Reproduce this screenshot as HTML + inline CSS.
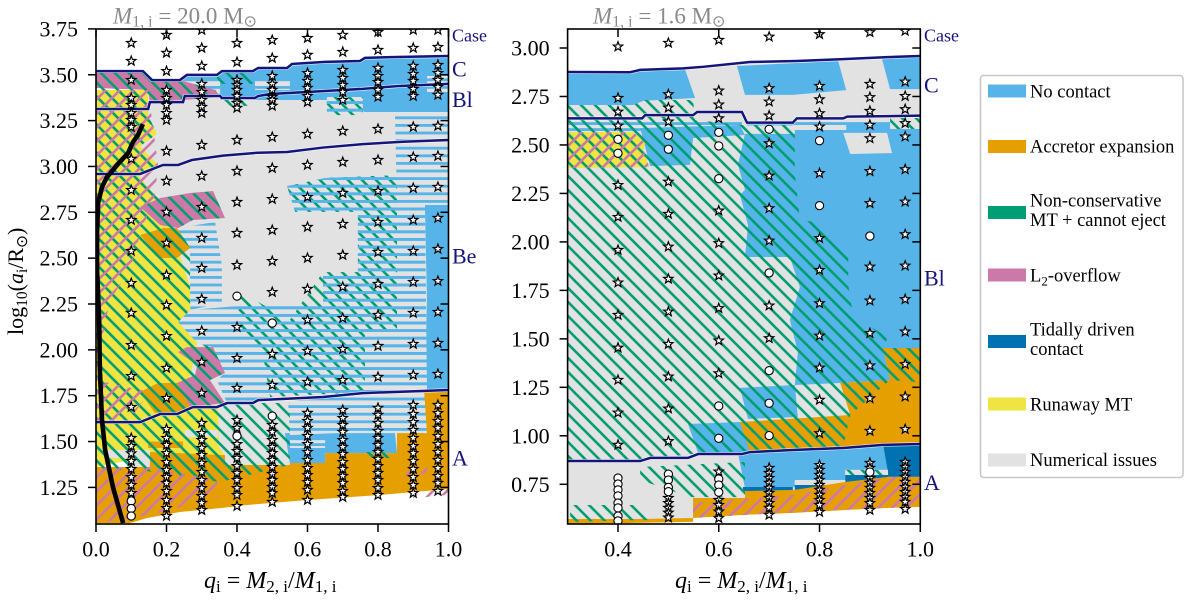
<!DOCTYPE html>
<html lang="en">
<head>
<meta charset="utf-8">
<title>Mass transfer outcome grids</title>
<style>
html,body{margin:0;padding:0;background:#fff;}
body{width:1200px;height:600px;overflow:hidden;}
svg{display:block;font-family:"Liberation Serif",serif;}
.tick-label{font-size:22px;fill:#000;}
.case-label{fill:#14147a;}
.legend-text{font-size:18.5px;fill:#000;}
</style>
</head>
<body>
<svg id="chart" width="1200" height="600" viewBox="0 0 1200 600">
  <defs>
    <pattern id="hatch-green" width="14" height="14" patternUnits="userSpaceOnUse">
      <path d="M-2,-2 L16,16 M-2,12 L2,16 M12,-2 L16,2" stroke="#009E73" stroke-width="2.6" fill="none"/>
    </pattern>
    <pattern id="hatch-pink" width="14" height="14" patternUnits="userSpaceOnUse">
      <path d="M-2,16 L16,-2 M-2,2 L2,-2 M12,16 L16,12" stroke="#CC79A7" stroke-width="2.6" fill="none"/>
    </pattern>
    <pattern id="stripe-blue" width="8" height="7.6" patternUnits="userSpaceOnUse">
      <rect width="8" height="7.6" fill="#E2E2E2"/>
      <rect y="2.4" width="8" height="2.8" fill="#56B4E9"/>
    </pattern>
    <pattern id="stripe-blue-over" width="8" height="7.6" patternUnits="userSpaceOnUse">
      <rect y="2.4" width="8" height="2.8" fill="#56B4E9"/>
    </pattern>
    <clipPath id="clip-left"><rect x="96" y="29" width="352.5" height="495"/></clipPath>
    <clipPath id="clip-right"><rect x="567.6" y="29" width="352.7" height="495"/></clipPath>
  </defs>

  <g id="panel-left">
    <g id="left-marks" clip-path="url(#clip-left)"></g>
    <g id="left-axes"></g>
    <text x="113" y="23.5" font-size="23" fill="#8a8a8a"><tspan font-style="italic">M</tspan><tspan font-size="16" dy="3">1, </tspan><tspan font-size="16">i</tspan><tspan dy="-3"> = 20.0 M</tspan><tspan font-size="16" dy="3">⊙</tspan></text>
    <text class="case-label" x="452" y="41.7" font-size="18">Case</text>
    <text class="case-label" x="452" y="76.7" font-size="22">C</text>
    <text class="case-label" x="452" y="107" font-size="22">Bl</text>
    <text class="case-label" x="452" y="263.3" font-size="22">Be</text>
    <text class="case-label" x="452" y="465.7" font-size="22">A</text>
    <text x="204" y="588" font-size="24"><tspan font-style="italic">q</tspan><tspan font-size="17" dy="4">i</tspan><tspan dy="-4"> = </tspan><tspan font-style="italic">M</tspan><tspan font-size="17" dy="4">2, i</tspan><tspan dy="-4">/</tspan><tspan font-style="italic">M</tspan><tspan font-size="17" dy="4">1, i</tspan></text>
    <text transform="translate(23,335) rotate(-90)" font-size="22">log<tspan font-size="15.5" dy="4">10</tspan><tspan dy="-4">(</tspan><tspan font-style="italic">a</tspan><tspan font-size="15.5" dy="4">i</tspan><tspan dy="-4">/R</tspan><tspan font-size="15.5" dy="4">⊙</tspan><tspan dy="-4">)</tspan></text>
  </g>

  <g id="panel-right">
    <g id="right-marks" clip-path="url(#clip-right)"></g>
    <g id="right-axes"></g>
    <text x="593" y="23.5" font-size="23" fill="#8a8a8a"><tspan font-style="italic">M</tspan><tspan font-size="16" dy="3">1, </tspan><tspan font-size="16">i</tspan><tspan dy="-3"> = 1.6 M</tspan><tspan font-size="16" dy="3">⊙</tspan></text>
    <text class="case-label" x="924" y="41.7" font-size="18">Case</text>
    <text class="case-label" x="924" y="92.7" font-size="22">C</text>
    <text class="case-label" x="924" y="285.7" font-size="22">Bl</text>
    <text class="case-label" x="924" y="490" font-size="22">A</text>
    <text x="675" y="588" font-size="24"><tspan font-style="italic">q</tspan><tspan font-size="17" dy="4">i</tspan><tspan dy="-4"> = </tspan><tspan font-style="italic">M</tspan><tspan font-size="17" dy="4">2, i</tspan><tspan dy="-4">/</tspan><tspan font-style="italic">M</tspan><tspan font-size="17" dy="4">1, i</tspan></text>
  </g>

  <g id="legend">
    <rect x="980.5" y="75.5" width="202.5" height="402" rx="3" fill="#fff" stroke="#c8c8c8" stroke-width="1.6"/>
    <g>
      <rect x="988" y="84.5" width="38" height="13" fill="#56B4E9"/>
      <text class="legend-text" x="1030" y="97.3">No contact</text>
    </g>
    <g>
      <rect x="988" y="140" width="38" height="13" fill="#E69F00"/>
      <text class="legend-text" x="1030" y="152.7">Accretor expansion</text>
    </g>
    <g>
      <rect x="988" y="206" width="38" height="13" fill="#009E73"/>
      <text class="legend-text" x="1030" y="206.7">Non-conservative</text>
      <text class="legend-text" x="1030" y="226">MT + cannot eject</text>
    </g>
    <g>
      <rect x="988" y="268.5" width="38" height="13" fill="#CC79A7"/>
      <text class="legend-text" x="1030" y="281.7">L<tspan font-size="13" dy="4">2</tspan><tspan dy="-4">-overflow</tspan></text>
    </g>
    <g>
      <rect x="988" y="335" width="38" height="13" fill="#0072B2"/>
      <text class="legend-text" x="1030" y="335.7">Tidally driven</text>
      <text class="legend-text" x="1030" y="355">contact</text>
    </g>
    <g>
      <rect x="988" y="397.5" width="38" height="13" fill="#F0E442"/>
      <text class="legend-text" x="1030" y="410.7">Runaway MT</text>
    </g>
    <g>
      <rect x="988" y="453.5" width="38" height="13" fill="#E2E2E2"/>
      <text class="legend-text" x="1030" y="466">Numerical issues</text>
    </g>
  </g>
</svg>

<script>
/* ---------- axis tick values ---------- */
const leftXTicks = [0, 0.2, 0.4, 0.6, 0.8, 1.0];
const leftYTicks = [1.25, 1.5, 1.75, 2.0, 2.25, 2.5, 2.75, 3.0, 3.25, 3.5, 3.75];
const rightXTicks = [0.4, 0.6, 0.8, 1.0];
const rightYTicks = [0.75, 1.0, 1.25, 1.5, 1.75, 2.0, 2.25, 2.5, 2.75, 3.0];

/* ---------- left panel: case boundary curves [q, log a] ---------- */
const leftLineC = [[0,3.52],[.133,3.52],[.159,3.471],[.238,3.471],[.258,3.499],[.343,3.499],[.357,3.52],[.445,3.52],[.46,3.537],[.542,3.537],[.556,3.559],[.599,3.564],[.65,3.57],[.749,3.575],[.763,3.592],[.854,3.597],[1,3.602]];
const leftLineBl = [[0,3.313],[.148,3.313],[.153,3.351],[.247,3.351],[.252,3.384],[.352,3.384],[.357,3.373],[.451,3.373],[.46,3.384],[.494,3.395],[.599,3.406],[.749,3.422],[.862,3.439],[1,3.45]];
const leftLineBe = [[0,2.959],[.125,2.959],[.19,3.008],[.233,3.008],[.272,3.035],[.36,3.059],[.46,3.075],[.542,3.079],[.644,3.103],[.757,3.122],[.871,3.135],[1,3.144]];
const leftLineA = [[0,1.606],[.125,1.606],[.182,1.65],[.23,1.65],[.275,1.688],[.343,1.688],[.372,1.71],[.445,1.71],[.46,1.726],[.644,1.743],[.757,1.764],[1,1.781]];
const leftBlackCurve = [[.133,3.231],[.119,3.171],[.105,3.133],[.091,3.073],[.06,3.008],[.031,2.942],[.017,2.888],[.006,2.801],[.003,2.637],[.003,2.435],[.009,2.163],[.011,1.89],[.017,1.617],[.026,1.454],[.048,1.252],[.077,1.055]];

/* ---------- left panel: outcome regions [q, log a] ---------- */
const leftGrayBase = [[.1,3.4],[1,3.4],[1,1.36],[.1,1.36]];
const leftBlueTop = [[.238,3.471],[.258,3.499],[.343,3.499],[.357,3.52],[.445,3.52],[.46,3.537],[.542,3.537],[.556,3.559],[.599,3.564],[.65,3.57],[.749,3.575],[.763,3.592],[.854,3.597],[1,3.602],[1,3.297],[.76,3.297],[.743,3.362],[.238,3.362]];
const leftBlueColumn = [[.933,2.79],[1,2.79],[1,1.77],[.931,1.77],[.939,2.272]];
const leftBlueLow = [[.536,1.546],[.848,1.546],[.854,1.437],[.65,1.437],[.65,1.383],[.55,1.383]];
const leftStripeA = [[.238,3.471],[.352,3.471],[.352,3.362],[.238,3.362]];
const leftStripeB = [[.451,3.471],[.55,3.471],[.55,3.417],[.451,3.417]];
const leftStripeC = [[.939,3.493],[1,3.493],[1,3.406],[.939,3.406]];
const leftStripeD = [[.655,3.379],[.757,3.379],[.757,3.28],[.655,3.28]];
const leftStripeE = [[.848,3.291],[1,3.291],[1,2.79],[.854,2.79]];
const leftStripeF = [[.542,2.893],[.65,2.937],[.854,2.953],[.854,2.79],[.743,2.752],[.565,2.752]];
const leftStripeG = [[.854,2.79],[.933,2.79],[.939,1.781],[.372,1.71],[.343,1.835],[.366,1.874],[.332,2.015],[.287,2.037],[.233,2.152],[.267,2.217],[.437,2.244],[.644,2.255],[.644,2.424],[.743,2.424],[.743,2.752]];
const leftStripeH = [[.23,2.664],[.338,2.697],[.357,2.462],[.357,2.255],[.267,2.217],[.267,2.544]];
const leftStripeI = [[.545,1.721],[.939,1.781],[.939,1.546],[.749,1.552],[.55,1.535]];
const leftStripeJ = [[.55,1.508],[.65,1.508],[.65,1.465],[.55,1.465]];
const leftYellow = [[0,3.417],[.148,3.417],[.148,3.28],[.173,3.177],[.125,3.111],[.176,3.008],[.119,2.953],[.167,2.844],[.21,2.681],[.267,2.343],[.267,2.217],[.233,2.152],[.287,2.037],[.267,1.852],[.295,1.699],[.346,1.699],[.349,1.47],[.366,1.421],[.153,1.421],[0,1.361]];
const leftPinkTop = [[0,3.515],[.133,3.515],[.159,3.471],[.238,3.471],[.338,3.417],[.352,3.379],[.247,3.362],[.153,3.346],[.148,3.417],[0,3.428]];
const leftPinkMid = [[.125,2.779],[.182,2.828],[.267,2.855],[.332,2.866],[.366,2.719],[.275,2.708],[.233,2.664],[.182,2.681]];
const leftOrangeMid = [[.125,2.626],[.19,2.664],[.23,2.664],[.267,2.555],[.23,2.501],[.182,2.501]];
const leftPinkLow = [[.233,1.988],[.258,2.015],[.332,2.015],[.366,1.874],[.323,1.835],[.366,1.71],[.267,1.688],[.23,1.819],[.281,1.863],[.287,1.917]];
const leftOrangeLowWedge = [[.125,1.77],[.176,1.819],[.23,1.819],[.267,1.688],[.23,1.661],[.167,1.656]];
const leftGrayBandA = [[.252,1.563],[.346,1.563],[.346,1.524],[.252,1.524]];
const leftGrayBandB = [[.026,1.454],[.153,1.454],[.153,1.41],[.026,1.41]];
const leftOrangeBand = [[.148,1.5],[.247,1.5],[.247,1.465],[.148,1.465]];
const leftOrangeMain = [[0,1.361],[.153,1.361],[.153,1.443],[.366,1.426],[.366,1.372],[.55,1.372],[.55,1.383],[.65,1.383],[.65,1.437],[.854,1.437],[.854,1.546],[.939,1.546],[.931,1.77],[1,1.77],[1,1.241],[.8,1.208],[.601,1.181],[.428,1.154],[.352,1.137],[.238,1.116],[.145,1.083],[.096,1.055],[0,1.055]];
const leftGreenHatchMain = [[0,3.515],[.133,3.515],[.159,3.471],[.238,3.471],[.338,3.417],[.352,3.379],[.247,3.362],[.153,3.346],[.148,3.28],[.173,3.177],[.125,3.111],[.176,3.008],[.119,2.953],[.167,2.844],[.182,2.828],[.332,2.866],[.366,2.719],[.275,2.708],[.233,2.664],[.267,2.555],[.267,2.217],[.233,2.152],[.287,2.037],[.332,2.015],[.366,1.874],[.323,1.835],[.366,1.71],[.55,1.71],[.55,1.372],[.352,1.279],[.125,1.345],[0,1.345]];
const leftGreenHatchB = [[.4,2.326],[.55,2.163],[.644,2.424],[.854,2.424],[.854,2.108],[.763,2.108],[.763,1.77],[.494,1.743],[.471,2.0],[.409,2.108]];
const leftGreenHatchC = [[.542,2.893],[.65,2.937],[.854,2.953],[.854,2.424],[.743,2.424],[.743,2.752],[.565,2.752]];
const leftGreenHatchD = [[.655,3.379],[.757,3.379],[.757,3.28],[.655,3.28]];
const leftGreenHatchE = [[.343,3.515],[.445,3.515],[.445,3.45],[.343,3.45]];
const leftGreenHatchF = [[.352,3.379],[.43,3.379],[.43,3.33],[.352,3.33]];
const leftGreenHatchG = [[.757,1.443],[.848,1.443],[.848,1.41],[.757,1.41]];
const leftPinkHatchA = [[0,3.417],[.148,3.417],[.176,3.008],[.167,2.844],[.125,2.626],[.096,2.435],[.04,2.272],[.011,2.0],[0,1.726]];
const leftPinkHatchB = [[0,1.835],[.153,1.77],[.111,1.661],[.011,1.59],[0,1.59]];
const leftPinkHatchC = [[0,1.361],[.153,1.361],[.343,1.29],[.343,1.197],[.153,1.1],[0,1.055]];
const leftPinkHatchD = [[.88,1.35],[.94,1.38],[.94,1.33],[.88,1.3]];
const leftPinkHatchE = [[.9,1.21],[1,1.25],[1,1.21],[.9,1.19]];

/* ---------- left panel: simulated models, log a per mass ratio ---------- */
const leftQ = [0.1, 0.2, 0.3, 0.4, 0.5, 0.6, 0.7, 0.8, 0.9, 0.97];
const leftStarsQ10 = [3.673,3.575,3.471,3.373,3.335,3.291,3.253,3.215,3.041,2.871,2.708,2.539,2.364,2.201,2.026,1.857,1.688,1.519,1.475,1.435,1.394,1.35,1.306,1.263,1.219];
const leftStarsQ20 = [3.717,3.619,3.52,3.417,3.373,3.335,3.291,3.253,3.084,2.921,2.752,2.583,2.408,2.244,2.075,1.901,1.737,1.568,1.519,1.481,1.437,1.388,1.345,1.306,1.274,1.23,1.181,1.137,1.094];
const leftStarsQ30 = [3.744,3.646,3.548,3.45,3.406,3.362,3.324,3.291,3.117,2.948,2.779,2.61,2.446,2.277,2.103,1.934,1.765,1.601,1.546,1.508,1.465,1.426,1.383,1.334,1.29,1.246,1.203,1.165,1.126];
const leftStarsQ40 = [3.673,3.569,3.471,3.444,3.417,3.384,3.346,3.319,3.144,2.975,2.806,2.637,2.462,2.124,1.955,1.792,1.617,1.574,1.486,1.448,1.41,1.366,1.328,1.29,1.246,1.208,1.148];
const leftStarsQ50 = [3.689,3.591,3.493,3.45,3.417,3.379,3.362,3.33,3.16,2.991,2.822,2.653,2.484,2.315,1.977,1.808,1.59,1.552,1.508,1.47,1.437,1.399,1.361,1.323,1.29,1.252,1.219,1.17];
const leftStarsQ60 = [3.7,3.608,3.509,3.466,3.428,3.384,3.351,3.177,3.008,2.833,2.67,2.501,2.332,2.163,1.994,1.825,1.656,1.612,1.574,1.53,1.486,1.443,1.399,1.355,1.317,1.279,1.236,1.181];
const leftStarsQ70 = [3.717,3.624,3.526,3.482,3.444,3.406,3.362,3.193,3.024,2.855,2.686,2.517,2.343,2.173,2.004,1.835,1.672,1.628,1.59,1.552,1.508,1.47,1.432,1.388,1.35,1.312,1.274,1.23,1.197];
const leftStarsQ80 = [3.733,3.635,3.537,3.493,3.46,3.417,3.379,3.204,3.035,2.866,2.697,2.533,2.359,2.19,2.021,1.852,1.683,1.645,1.601,1.557,1.519,1.481,1.443,1.405,1.366,1.328,1.29,1.246,1.208];
const leftStarsQ90 = [3.744,3.646,3.548,3.504,3.466,3.422,3.384,3.215,3.051,2.882,2.708,2.539,2.37,2.201,2.032,1.863,1.699,1.65,1.606,1.563,1.519,1.475,1.437,1.394,1.35,1.306,1.263,1.219];
const leftStarsQ97 = [3.744,3.651,3.553,3.509,3.471,3.433,3.39,3.221,3.057,2.888,2.719,2.55,2.375,2.206,2.037,1.868,1.699,1.655,1.612,1.574,1.53,1.486,1.443,1.399,1.355,1.312,1.274,1.23];
const leftCirclesQ10 = [1.176,1.135,1.094];
const leftCirclesQ40 = [2.293,1.53];
const leftCirclesQ50 = [2.146,1.639];

/* ---------- right panel: case boundary curves ---------- */
const rightLineC = [[.3,2.876],[.424,2.875],[.444,2.887],[.529,2.895],[.569,2.903],[.662,2.928],[.755,2.933],[.841,2.942],[.954,2.955],[1,2.959]];
const rightLineBl = [[.3,2.637],[.448,2.637],[.454,2.654],[.549,2.654],[.557,2.67],[.646,2.67],[.656,2.615],[.747,2.615],[.755,2.637],[.847,2.637],[.855,2.646],[1,2.651]];
const rightLineA = [[.3,.87],[.444,.87],[.464,.886],[.539,.886],[.559,.906],[.646,.906],[.662,.916],[.747,.927],[.847,.937],[.926,.953],[1,.958]];

/* ---------- right panel: outcome regions ---------- */
const rightGrayBase = [[.3,2.876],[.424,2.875],[.444,2.887],[.529,2.895],[.569,2.903],[.662,2.928],[.755,2.933],[.841,2.942],[.954,2.955],[1,2.959],[1,.63],[.549,.56],[.3,.545]];
const rightBlueTopA = [[.3,2.876],[.424,2.875],[.444,2.887],[.529,2.895],[.533,2.89],[.553,2.742],[.45,2.727],[.43,2.706],[.3,2.706]];
const rightBlueTopB = [[.636,2.907],[.837,2.933],[.853,2.783],[.747,2.758],[.652,2.758]];
const rightBlueTopC = [[.924,2.943],[1,2.959],[1,2.788],[.94,2.788]];
const rightBlueMid = [[.444,2.587],[.642,2.603],[.652,2.551],[.549,2.536],[.543,2.397],[.464,2.391]];
const rightBlueThinA = [[.3,2.618],[.646,2.618],[.646,2.603],[.3,2.603]];
const rightBlueThinB = [[.3,2.587],[.464,2.587],[.464,2.572],[.3,2.572]];
const rightBlueThinC = [[.656,2.613],[.851,2.613],[.851,2.6],[.656,2.6]];
const rightBlueMain = [[.652,2.557],[.751,2.557],[.751,2.618],[1,2.618],[1,1.453],[.926,1.453],[.94,1.288],[.841,1.272],[.751,1.262],[.757,1.432],[.741,1.597],[.761,1.767],[.741,1.922],[.652,1.922],[.658,2.087],[.642,2.242],[.652,2.268],[.638,2.397]];
const rightGrayStrip = [[.747,2.603],[.853,2.603],[.853,2.577],[.747,2.577]];
const rightGrayBlock = [[.847,2.562],[.934,2.562],[.944,2.458],[.861,2.453]];
const rightGrayCorner = [[.94,2.639],[1,2.639],[1,2.582],[.94,2.582]];
const rightBlueMidLow = [[.642,1.247],[.751,1.262],[.757,1.097],[.658,1.087]];
const rightYellow = [[.3,2.567],[.43,2.567],[.454,2.51],[.45,2.474],[.462,2.386],[.305,2.381],[.3,2.381]];
const rightOrangeUpper = [[.642,1.071],[.861,1.107],[.841,1.272],[.94,1.288],[.926,1.453],[1,1.453],[1,.958],[.926,.953],[.847,.937],[.747,.927],[.656,.916]];
const rightBlueWedge = [[.539,1.061],[.642,1.071],[.662,.916],[.559,.911]];
const rightBlueLow = [[.638,.911],[.926,.947],[.936,.824],[.851,.824],[.851,.772],[.751,.767],[.751,.736],[.652,.731]];
const rightDarkA = [[.648,.736],[.747,.736],[.747,.715],[.648,.71]];
const rightDarkB = [[.751,.746],[.851,.762],[.851,.726],[.751,.721]];
const rightDarkC = [[.851,.798],[.936,.798],[.936,.762],[.851,.762]];
const rightDarkD = [[.926,.953],[1,.958],[1,.788],[.936,.788],[.936,.813]];
const rightGrayBitA = [[.751,.772],[.851,.772],[.851,.746],[.751,.746]];
const rightGrayBitB = [[.851,.824],[.936,.824],[.936,.798],[.851,.798]];
const rightOrangeLower = [[.549,.679],[.652,.679],[.652,.715],[.751,.721],[.851,.762],[.936,.788],[1,.788],[1,.633],[.94,.628],[.855,.617],[.747,.602],[.652,.592],[.549,.576]];
const rightWhiteFloor = [[.549,.576],[.652,.592],[.747,.602],[.855,.617],[.94,.628],[1,.633],[1,.545],[.549,.545]];
const rightOrangeSliver = [[.3,.571],[.444,.571],[.549,.576],[.549,.556],[.3,.545]];
const rightGreenHatchMain = [[.3,2.706],[.43,2.706],[.45,2.732],[.549,2.732],[.553,2.629],[.646,2.603],[.751,2.603],[.751,2.355],[.761,2.113],[.791,2.103],[.857,1.932],[.857,1.778],[.867,1.613],[.936,1.51],[.926,1.453],[1,1.453],[1,1.277],[.94,1.288],[.861,1.107],[.847,.942],[.563,.911],[.444,.875],[.3,.875]];
const rightGreenHatchB = [[.444,.839],[.652,.865],[.652,.684],[.543,.684],[.444,.772]];
const rightGreenHatchC = [[.305,.643],[.444,.643],[.464,.566],[.305,.556]];
const rightGreenHatchD = [[.94,2.639],[1,2.639],[1,2.582],[.94,2.582]];
const rightGreenHatchE = [[.851,.824],[.936,.824],[.936,.798],[.851,.798]];
const rightPinkHatchA = [[.3,2.567],[.43,2.567],[.454,2.51],[.45,2.474],[.462,2.386],[.3,2.381]];
const rightPinkHatchB = [[.549,.654],[.747,.695],[.94,.788],[1,.788],[1,.633],[.85,.62],[.549,.576]];

/* ---------- right panel: simulated models ---------- */
const rightQ = [0.4, 0.5, 0.6, 0.7, 0.8, 0.9, 0.97];
const rightStarsQ40 = [3.007,2.742,2.671,2.599,2.293,2.128,1.958,1.79,1.623,1.454,1.288,1.119,.953];
const rightStarsQ50 = [3.026,2.761,2.692,2.62,2.31,2.144,1.975,1.809,1.64,1.473,1.305,1.14,.972,.679,.653,.628,.603,.578];
const rightStarsQ60 = [3.041,2.78,2.708,2.637,2.161,1.993,1.826,1.658,1.491,1.322,.815,.669,.643,.609,.575];
const rightStarsQ70 = [3.058,2.792,2.723,2.651,2.508,2.341,2.173,2.006,1.671,1.503,.834,.808,.782,.757,.731,.705,.679,.653,.628,.592];
const rightStarsQ80 = [3.071,2.804,2.735,2.663,2.594,2.354,2.019,1.855,1.683,1.516,1.351,1.185,1.013,.849,.824,.798,.772,.746,.721,.695,.669,.643,.607];
const rightStarsQ90 = [3.081,2.814,2.746,2.675,2.603,2.534,2.364,2.199,1.872,1.697,1.529,1.362,1.193,1.025,.86,.834,.782,.757,.731,.705,.679,.653,.617];
const rightStarsQ97 = [3.088,2.826,2.752,2.684,2.612,2.543,2.374,2.207,2.039,1.877,1.704,1.537,1.369,1.202,1.034,.865,.839,.813,.788,.762,.736,.71,.684,.659,.622];
const rightCirclesQ40 = [2.529,2.457,.782,.751,.721,.69,.653,.628,.586,.561];
const rightCirclesQ50 = [2.55,2.478,.802,.772,.734,.712];
const rightCirclesQ60 = [2.565,2.495,2.326,1.154,.987,.777,.746,.709];
const rightCirclesQ70 = [2.581,1.84,1.336,1.168,1.001];
const rightCirclesQ80 = [2.522,2.187];
const rightCirclesQ90 = [2.03,.813];

/* ---------- assembly tables ---------- */
const fills = {gray:'#E2E2E2',blue:'#56B4E9',orange:'#E69F00',pink:'#CC79A7',yellow:'#F0E442',dark:'#0072B2',white:'#FFFFFF',stripe:'url(#stripe-blue)',stripeover:'url(#stripe-blue-over)',green:'url(#hatch-green)',cross:'url(#hatch-pink)'};

const leftRegions = [
  [leftGrayBase,'gray'],[leftBlueTop,'blue'],[leftBlueColumn,'blue'],[leftBlueLow,'blue'],
  [leftStripeA,'stripe'],[leftStripeB,'stripe'],[leftStripeC,'stripe'],[leftStripeD,'stripe'],[leftStripeE,'stripe'],
  [leftStripeF,'stripe'],[leftStripeG,'stripe'],[leftStripeH,'stripe'],[leftStripeI,'stripe'],
  [leftYellow,'yellow'],[leftPinkTop,'pink'],[leftPinkMid,'pink'],[leftOrangeMid,'orange'],[leftPinkLow,'pink'],[leftOrangeLowWedge,'orange'],
  [leftGrayBandA,'gray'],[leftGrayBandB,'gray'],[leftOrangeBand,'orange'],[leftOrangeMain,'orange'],[leftStripeJ,'stripe'],
  [leftGreenHatchMain,'green'],[leftGreenHatchB,'green'],[leftGreenHatchC,'green'],[leftGreenHatchD,'green'],[leftGreenHatchE,'green'],[leftGreenHatchF,'green'],[leftGreenHatchG,'green'],
  [leftStripeD,'stripeover'],[leftStripeF,'stripeover'],[leftStripeG,'stripeover'],
  [leftPinkHatchA,'cross'],[leftPinkHatchB,'cross'],[leftPinkHatchC,'cross'],[leftPinkHatchD,'cross'],[leftPinkHatchE,'cross']
];
const rightRegions = [
  [rightGrayBase,'gray'],[rightBlueTopA,'blue'],[rightBlueTopB,'blue'],[rightBlueTopC,'blue'],[rightBlueMain,'blue'],[rightBlueMid,'blue'],
  [rightBlueThinA,'blue'],[rightBlueThinB,'blue'],[rightBlueThinC,'blue'],[rightGrayStrip,'gray'],[rightGrayBlock,'gray'],[rightGrayCorner,'gray'],[rightBlueMidLow,'blue'],
  [rightYellow,'yellow'],[rightOrangeUpper,'orange'],[rightBlueWedge,'blue'],[rightBlueLow,'blue'],
  [rightDarkA,'dark'],[rightDarkB,'dark'],[rightDarkC,'dark'],[rightDarkD,'dark'],[rightGrayBitA,'gray'],[rightGrayBitB,'gray'],
  [rightOrangeLower,'orange'],[rightWhiteFloor,'white'],[rightOrangeSliver,'orange'],
  [rightGreenHatchMain,'green'],[rightGreenHatchB,'green'],[rightGreenHatchC,'green'],[rightGreenHatchD,'green'],[rightGreenHatchE,'green'],
  [rightPinkHatchA,'cross'],[rightPinkHatchB,'cross']
];
const leftStarColumns = [leftStarsQ10,leftStarsQ20,leftStarsQ30,leftStarsQ40,leftStarsQ50,leftStarsQ60,leftStarsQ70,leftStarsQ80,leftStarsQ90,leftStarsQ97];
const leftCircleColumns = [leftCirclesQ10,[],[],leftCirclesQ40,leftCirclesQ50,[],[],[],[],[]];
const rightStarColumns = [rightStarsQ40,rightStarsQ50,rightStarsQ60,rightStarsQ70,rightStarsQ80,rightStarsQ90,rightStarsQ97];
const rightCircleColumns = [rightCirclesQ40,rightCirclesQ50,rightCirclesQ60,rightCirclesQ70,rightCirclesQ80,rightCirclesQ90,[]];

/* ---------- axis functions ---------- */
const leftX = q => 96 + q * 352.5;
const leftY = v => 28.9 + (3.75 - v) * 183.4;
const rightX = q => 618 + (q - 0.4) * 503.8;
const rightY = v => 48 + (3 - v) * 193.9;

const NS = document.getElementById('chart').namespaceURI;

function pathOf(points, xf, yf, closed) {
  return points.map((p, i) => (i ? 'L' : 'M') + xf(p[0]).toFixed(2) + ',' + yf(p[1]).toFixed(2)).join(' ') + (closed ? ' Z' : '');
}

function starPath(cx, cy) {
  let d = '';
  for (let i = 0; i < 10; i++) {
    const r = i % 2 ? 2.05 : 4.9;
    const a = -Math.PI / 2 + i * Math.PI / 5;
    d += (i ? 'L' : 'M') + (cx + r * Math.cos(a)).toFixed(2) + ',' + (cy + r * Math.sin(a)).toFixed(2);
  }
  return d + 'Z';
}

function drawRegions(group, regions, xf, yf) {
  regions.forEach(function (region) {
    const el = document.createElementNS(NS, 'path');
    el.setAttribute('d', pathOf(region[0], xf, yf, true));
    el.setAttribute('fill', fills[region[1]]);
    
    
    group.appendChild(el);
  });
}

function drawCurve(group, points, xf, yf) {
  const halo = document.createElementNS(NS, 'path');
  halo.setAttribute('d', pathOf(points, xf, yf, false));
  halo.setAttribute('fill', 'none');
  halo.setAttribute('stroke', '#ffffff');
  halo.setAttribute('stroke-opacity', '0.75');
  halo.setAttribute('stroke-width', '3.8');
  
  
  group.appendChild(halo);
  const el = document.createElementNS(NS, 'path');
  el.setAttribute('d', pathOf(points, xf, yf, false));
  el.setAttribute('fill', 'none');
  el.setAttribute('stroke', '#14147a');
  el.setAttribute('stroke-width', '2.5');
  
  
  group.appendChild(el);
}

function drawMarkers(group, qs, starColumns, circleColumns, xf, yf) {
  qs.forEach(function (q, i) {
    starColumns[i].forEach(function (v) {
      const el = document.createElementNS(NS, 'path');
      el.setAttribute('d', starPath(xf(q), yf(v)));
      el.setAttribute('fill', '#ffffff');
      el.setAttribute('stroke', '#000000');
      el.setAttribute('stroke-width', '1.2');
      el.setAttribute('stroke-linejoin', 'miter');
      
      
      group.appendChild(el);
    });
    circleColumns[i].forEach(function (v) {
      const el = document.createElementNS(NS, 'circle');
      el.setAttribute('cx', xf(q));
      el.setAttribute('cy', yf(v));
      el.setAttribute('r', '4.1');
      el.setAttribute('fill', '#ffffff');
      el.setAttribute('stroke', '#000000');
      el.setAttribute('stroke-width', '1.1');
      
      
      group.appendChild(el);
    });
  });
}

function drawAxes(group, xf, yf, x0, x1, xTicks, yTicks) {
  const top = 29, bottom = 524;
  function tick(x1p, y1p, x2p, y2p) {
    const el = document.createElementNS(NS, 'line');
    el.setAttribute('x1', x1p);
    el.setAttribute('y1', y1p);
    el.setAttribute('x2', x2p);
    el.setAttribute('y2', y2p);
    el.setAttribute('stroke', '#000000');
    el.setAttribute('stroke-width', '1.5');
    
    
    group.appendChild(el);
  }
  const frame = document.createElementNS(NS, 'rect');
  frame.setAttribute('x', x0);
  frame.setAttribute('y', top);
  frame.setAttribute('width', x1 - x0);
  frame.setAttribute('height', bottom - top);
  frame.setAttribute('fill', 'none');
  frame.setAttribute('stroke', '#000000');
  frame.setAttribute('stroke-width', '1.6');
  
  
  group.appendChild(frame);
  xTicks.forEach(function (q) {
    tick(xf(q), bottom, xf(q), bottom + 8);
    tick(xf(q), top, xf(q), top + 8);
    const t = document.createElementNS(NS, 'text');
    t.setAttribute('x', xf(q));
    t.setAttribute('y', 556.7);
    t.setAttribute('text-anchor', 'middle');
    t.setAttribute('class', 'tick-label');
    
    
    t.textContent = q.toFixed(1);
    group.appendChild(t);
  });
  yTicks.forEach(function (v) {
    tick(x0 - 8, yf(v), x0, yf(v));
    tick(x1 - 8, yf(v), x1, yf(v));
    const t = document.createElementNS(NS, 'text');
    t.setAttribute('x', x0 - 18);
    t.setAttribute('y', yf(v) + 7.5);
    t.setAttribute('text-anchor', 'end');
    t.setAttribute('class', 'tick-label');
    
    
    t.textContent = v.toFixed(2);
    group.appendChild(t);
  });
}

const leftMarks = document.getElementById('left-marks');
const rightMarks = document.getElementById('right-marks');

drawRegions(leftMarks, leftRegions, leftX, leftY);
[leftLineC, leftLineBl, leftLineBe, leftLineA].forEach(function (line) { drawCurve(leftMarks, line, leftX, leftY); });
drawMarkers(leftMarks, leftQ, leftStarColumns, leftCircleColumns, leftX, leftY);

const blackCurve = document.createElementNS(NS, 'path');
blackCurve.setAttribute('d', pathOf(leftBlackCurve, leftX, leftY, false));
blackCurve.setAttribute('fill', 'none');
blackCurve.setAttribute('stroke', '#000000');
blackCurve.setAttribute('stroke-width', '4.6');
blackCurve.setAttribute('stroke-linejoin', 'round');


leftMarks.appendChild(blackCurve);

drawRegions(rightMarks, rightRegions, rightX, rightY);
[rightLineC, rightLineBl, rightLineA].forEach(function (line) { drawCurve(rightMarks, line, rightX, rightY); });
drawMarkers(rightMarks, rightQ, rightStarColumns, rightCircleColumns, rightX, rightY);

drawAxes(document.getElementById('left-axes'), leftX, leftY, 96, 448.5, leftXTicks, leftYTicks);
drawAxes(document.getElementById('right-axes'), rightX, rightY, 567.6, 920.3, rightXTicks, rightYTicks);
</script>
</body>
</html>
